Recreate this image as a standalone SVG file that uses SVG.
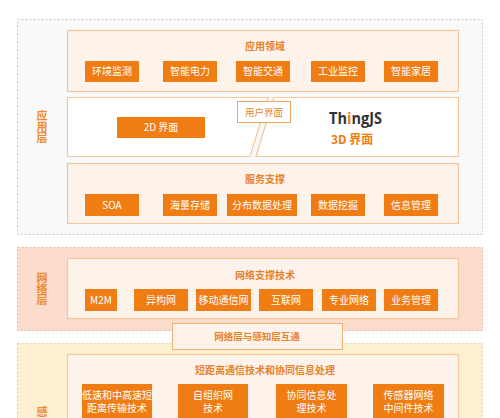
<svg xmlns="http://www.w3.org/2000/svg" width="500" height="418" viewBox="0 0 500 418">
<style>
text{font-family:"Noto Sans CJK SC","Noto Sans",sans-serif}
.layer{stroke-width:1;stroke-dasharray:2 2}
.panel{fill:#fdf3ea;stroke:#f6c79a;stroke-width:1.2}
.btn{fill:#f07c14}
.bt{fill:#fff;font-size:10px;text-anchor:middle}
.title{fill:#e8822a;font-size:10px;font-weight:bold;text-anchor:middle}
.lab{fill:#ee8a2a;font-size:11px;font-weight:bold;text-anchor:middle;writing-mode:vertical-rl}
</style>
<rect width="500" height="418" fill="#fff"/>
<!-- layers -->
<g id="layer-app">
<rect class="layer" x="17.5" y="19.5" width="465" height="215" fill="#f9f9f9" stroke="#c8c8c8"/>
<text class="lab" x="42" y="127">应用层</text>
</g>
<g id="layer-net">
<rect class="layer" x="17.5" y="247.5" width="465" height="83" fill="#fbdccd" stroke="#d9b8a8"/>
<text class="lab" x="42" y="289">网络层</text>
</g>
<g id="layer-sense">
<rect class="layer" x="17.5" y="343.5" width="465" height="90" fill="#fdf0d0" stroke="#ddd0a8"/>
<text x="42" y="416" fill="#ee8a2a" font-size="11" font-weight="bold" text-anchor="middle">感</text>
</g>
<!-- 应用领域 -->
<g id="panel-domain">
<rect class="panel" x="67.5" y="30.5" width="391" height="61"/>
<text class="title" x="265" y="50">应用领域</text>
</g>
<g id="b-env"><rect class="btn" x="85" y="61" width="54" height="21"/><text class="bt" x="112" y="75">环境监测</text></g>
<g id="b-power"><rect class="btn" x="163" y="61" width="54" height="21"/><text class="bt" x="190" y="75">智能电力</text></g>
<g id="b-traffic"><rect class="btn" x="236" y="61" width="54" height="21"/><text class="bt" x="263" y="75">智能交通</text></g>
<g id="b-industry"><rect class="btn" x="311" y="61" width="54" height="21"/><text class="bt" x="338" y="75">工业监控</text></g>
<g id="b-home"><rect class="btn" x="384" y="61" width="54" height="21"/><text class="bt" x="411" y="75">智能家居</text></g>
<!-- 用户界面 -->
<g id="panel-ui">
<polygon points="67.5,97.5 268,97.5 250,156.5 67.5,156.5" fill="#fff" stroke="#f6c79a" stroke-width="1.2"/>
<polygon points="274,97.5 458.5,97.5 458.5,156.5 256,156.5" fill="#fff" stroke="#f6c79a" stroke-width="1.2"/>
</g>
<g id="b-2d"><rect class="btn" x="117" y="117" width="88" height="21"/><text class="bt" x="161" y="131">2D 界面</text></g>
<g id="ui-label"><rect x="237.5" y="101.5" width="53" height="21" fill="#fff" stroke="#f0a860" stroke-width="1"/><text class="title" x="264" y="115.5" style="font-weight:normal;font-size:9.5px">用户界面</text></g>
<g id="thingjs">
<text x="329" y="123.5" font-weight="bold"><tspan font-family="'Open Sans','Noto Sans',sans-serif" font-size="16" fill="#333" textLength="53" lengthAdjust="spacingAndGlyphs">Th<tspan fill="#f07c14">i</tspan>ngJS</tspan><tspan x="331" y="143.5" font-size="12" fill="#f07c14">3D 界面</tspan></text>
</g>
<!-- 服务支撑 -->
<g id="panel-service">
<rect class="panel" x="67.5" y="163.5" width="391" height="60"/>
<text class="title" x="265" y="183">服务支撑</text>
</g>
<g id="b-soa"><rect class="btn" x="85" y="194" width="54" height="22"/><text class="bt" x="112" y="208.5">SOA</text></g>
<g id="b-storage"><rect class="btn" x="163" y="194" width="54" height="22"/><text class="bt" x="190" y="208.5">海量存储</text></g>
<g id="b-dist"><rect class="btn" x="227" y="194" width="70" height="22"/><text class="bt" x="262" y="208.5">分布数据处理</text></g>
<g id="b-mining"><rect class="btn" x="311" y="194" width="54" height="22"/><text class="bt" x="338" y="208.5">数据挖掘</text></g>
<g id="b-info"><rect class="btn" x="384" y="194" width="54" height="22"/><text class="bt" x="411" y="208.5">信息管理</text></g>
<!-- 网络支撑技术 -->
<g id="panel-net">
<rect class="panel" x="67.5" y="258.5" width="391" height="60"/>
<text class="title" x="265" y="279">网络支撑技术</text>
</g>
<g id="b-m2m"><rect class="btn" x="85" y="289" width="32" height="22"/><text class="bt" x="101" y="303.5">M2M</text></g>
<g id="b-hetero"><rect class="btn" x="134" y="289" width="54" height="22"/><text class="bt" x="161" y="303.5">异构网</text></g>
<g id="b-mobile"><rect class="btn" x="196" y="289" width="55" height="22"/><text class="bt" x="223.5" y="303.5">移动通信网</text></g>
<g id="b-internet"><rect class="btn" x="259" y="289" width="54" height="22"/><text class="bt" x="286" y="303.5">互联网</text></g>
<g id="b-pro"><rect class="btn" x="322" y="289" width="54" height="22"/><text class="bt" x="349" y="303.5">专业网络</text></g>
<g id="b-biz"><rect class="btn" x="384" y="289" width="54" height="22"/><text class="bt" x="411" y="303.5">业务管理</text></g>
<!-- 互通 -->
<g id="interconnect">
<rect x="172.5" y="323.5" width="170" height="26" fill="#fdf3ea" stroke="#f0b070" stroke-width="1"/>
<text class="title" x="257" y="340" style="font-size:9.5px">网络层与感知层互通</text>
</g>
<!-- 感知层 panel -->
<g id="panel-sense">
<rect class="panel" x="67.5" y="354.5" width="391" height="80"/>
<text class="title" x="265" y="374">短距离通信技术和协同信息处理</text>
</g>
<g id="b-short"><rect class="btn" x="82" y="384" width="70" height="40"/><text class="bt" x="117" y="399">低速和中高速短<tspan x="117" y="412">距离传输技术</tspan></text></g>
<g id="b-selforg"><rect class="btn" x="178" y="384" width="70" height="40"/><text class="bt" x="213" y="399">自组织网<tspan x="213" y="412">技术</tspan></text></g>
<g id="b-coop"><rect class="btn" x="276" y="384" width="71" height="40"/><text class="bt" x="311.5" y="399">协同信息处<tspan x="311.5" y="412">理技术</tspan></text></g>
<g id="b-middle"><rect class="btn" x="373" y="384" width="71" height="40"/><text class="bt" x="408.5" y="399">传感器网络<tspan x="408.5" y="412">中间件技术</tspan></text></g>
<g id="connectors"></g>
</svg>
